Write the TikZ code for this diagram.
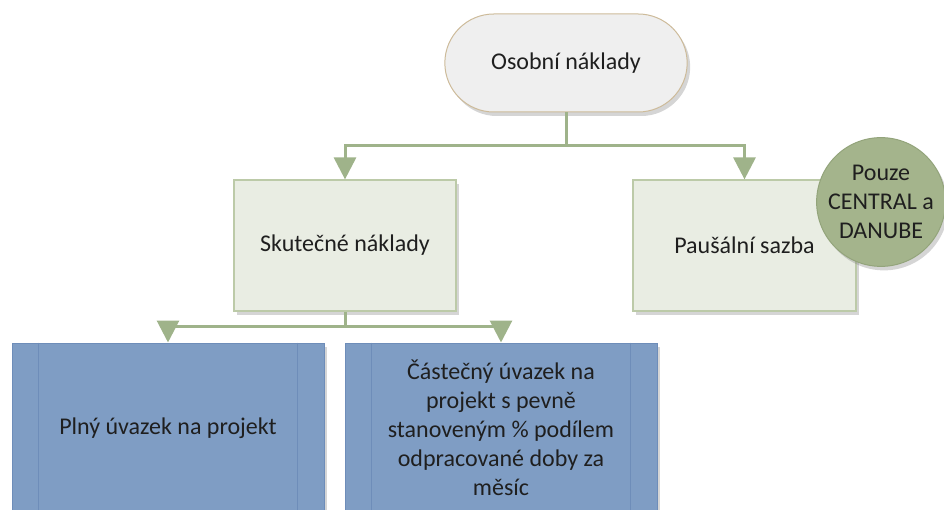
\documentclass[tikz,border=0pt]{standalone}
\usepackage{fontspec}
\setmainfont{Carlito}
\usetikzlibrary{positioning,arrows.meta,shadows,shapes.misc,calc}

\definecolor{termfill}{HTML}{EFEFEF}
\definecolor{termline}{HTML}{CDBB9A}
\definecolor{boxfill}{HTML}{E9EDE3}
\definecolor{boxline}{HTML}{BCCAA8}
\definecolor{connline}{HTML}{9FB38A}
\definecolor{notefill}{HTML}{A4B48C}
\definecolor{noteline}{HTML}{93A47B}
\definecolor{procfill}{HTML}{7F9DC4}
\definecolor{procline}{HTML}{6E8DB9}
\definecolor{txt}{HTML}{1F1F1F}

\begin{document}
\begin{tikzpicture}[
    x=1pt, y=-1pt,
    font=\fontsize{24}{29}\selectfont, text=txt,
    shade/.style={drop shadow={shadow xshift=3pt, shadow yshift=-4pt,
                  opacity=0.3, fill=black!55}},
    term/.style={rounded rectangle, draw=termline, fill=termfill, line width=1pt,
                 minimum width=249pt, minimum height=98pt, shade},
    cost/.style={rectangle, draw=boxline, fill=boxfill, line width=1.2pt,
                 minimum height=131pt, shade},
    note/.style={circle, draw=noteline, fill=notefill, line width=1pt,
                 minimum size=120pt, inner sep=0pt, align=center, shade},
    proc/.style={rectangle, draw=procline, fill=procfill, line width=1pt,
                 minimum width=312pt, minimum height=170pt, align=center, shade},
    conn/.style={draw=connline, line width=3pt},
    arr/.style={conn, -{Triangle[width=22pt,length=22pt]}},
]
\useasboundingbox (0,0) rectangle (944,510);
\clip (0,0) rectangle (944,510);

% top level
\node[term] (osobni) at (566,63) {Osobní náklady};

% second level
\node[cost, minimum width=222pt] (skut) at (345,245.5) {Skutečné náklady};
\node[cost, minimum width=223pt] (pausal) at (744.5,245.5) {Paušální sazba};
\node[note] (pouze) at (881,202) {Pouze\\CENTRAL a\\DANUBE};

% third level
\node[proc] (plny) at (168,428) {Plný úvazek na projekt};
\node[proc] (castecny) at (501,428) {Částečný úvazek na\\projekt s pevně\\stanoveným \% podílem\\odpracované doby za\\měsíc};
\foreach \n in {plny,castecny} {
    \draw[procline, line width=1pt] ([xshift=27pt]\n.north west) -- ([xshift=27pt]\n.south west);
    \draw[procline, line width=1pt] ([xshift=-27pt]\n.north east) -- ([xshift=-27pt]\n.south east);
}

% connectors
\coordinate (j1) at ($(osobni.south)+(0,33)$);
\draw[conn] (osobni.south) -- (j1);
\draw[arr] (j1) -| (skut.north);
\draw[arr] (j1) -| (pausal.north);

\coordinate (j2) at ($(skut.south)+(0,15)$);
\draw[conn] (skut.south) -- (j2);
\draw[arr] (j2) -| (plny.north);
\draw[arr] (j2) -| (castecny.north);
\end{tikzpicture}
\end{document}
